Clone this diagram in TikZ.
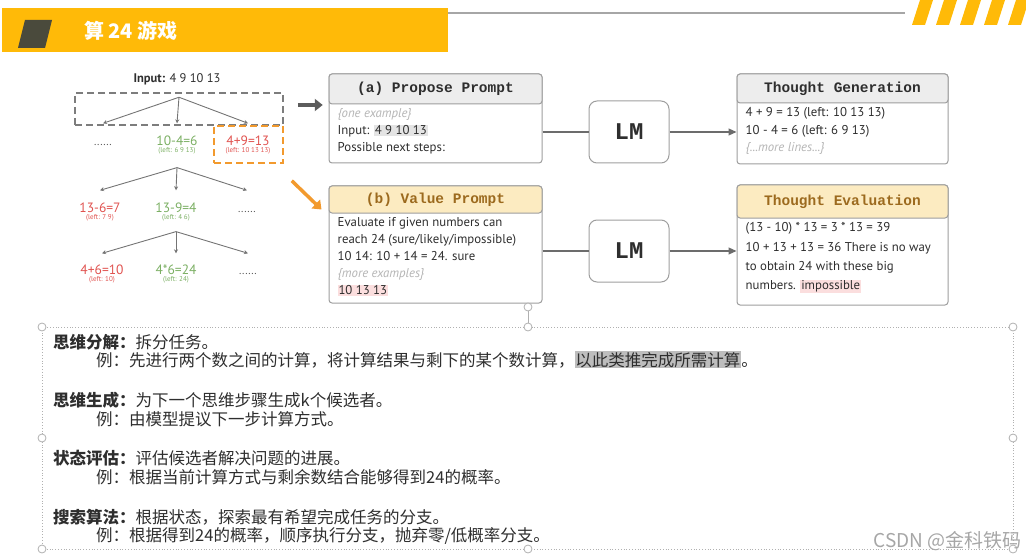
\documentclass[tikz,border=0pt]{standalone}
\usepackage{fontspec}
\setmainfont{PT Sans}
\setmonofont{Liberation Mono}
\newfontfamily\cjk{Noto Sans CJK SC}
\usepackage{tikz}
\usetikzlibrary{positioning,arrows.meta,calc}
\definecolor{ttlyel}{HTML}{FFBA08}
\definecolor{ttldark}{HTML}{4A4A3C}
\definecolor{ink}{HTML}{2E2E2E}
\definecolor{redt}{HTML}{E0524F}
\definecolor{greent}{HTML}{7BAF63}
\definecolor{arrgrey}{HTML}{5C5C5C}
\definecolor{orng}{HTML}{F29A2E}
\definecolor{frame}{HTML}{9E9E9E}
\definecolor{hdgrey}{HTML}{EDEDED}
\definecolor{hdcream}{HTML}{FCEBC1}
\definecolor{hdbrown}{HTML}{9C6A1E}
\definecolor{faint}{HTML}{B5B5B5}
\definecolor{hlgrey}{HTML}{E4E4E4}
\definecolor{hlpink}{HTML}{FBDEDE}
\definecolor{hlmid}{HTML}{BDBDBD}
\definecolor{selgrey}{HTML}{B0B0B0}
\newcommand{\hlt}[2]{\smash{\setlength{\fboxsep}{0.8pt}\colorbox{#1}{#2}}}
\tikzset{
  ttl/.style={inner sep=0, text=white, font=\cjk\bfseries\fontsize{20}{20}\selectfont},
  inp/.style={inner sep=0, text=ink, font=\fontsize{12.5}{12.5}\selectfont},
  dbox/.style={draw=arrgrey!80, dash pattern=on 7pt off 4pt, line width=1.5pt, inner sep=0},
  obox/.style={dbox, draw=orng},
  eq/.style={inner sep=0, text height=9pt, text depth=0pt, font=\fontsize{13.5}{13.5}\selectfont},
  eqr/.style={eq, text=redt},
  eqg/.style={eq, text=greent},
  lft/.style={inner sep=0, font=\fontsize{7}{7}\selectfont},
  dots/.style={eq, text=arrgrey, font=\fontsize{11}{11}\selectfont},
  tarr/.style={-{Stealth[length=4pt,width=4pt]}, line width=0.9pt, color=arrgrey!85},
  garr/.style={-{Triangle[length=8pt,width=12pt]}, line width=3.5pt, color=arrgrey},
  oarr/.style={-{Triangle[length=8pt,width=12pt]}, line width=3.5pt, color=orng},
  box/.style={draw=frame, line width=1pt, rounded corners=3pt, inner sep=0, fill=white},
  hd/.style={box, text=ink, font=\ttfamily\bfseries\fontsize{14.5}{14.5}\selectfont},
  body/.style={inner sep=0, align=left, anchor=north west, text=ink, font=\fontsize{12.8}{17}\selectfont},
  lm/.style={draw=frame, line width=1pt, rounded corners=8pt, minimum width=80pt, minimum height=62pt,
             text=ink, font=\ttfamily\bfseries\fontsize{24}{24}\selectfont},
  cl/.style={line width=1.2pt, color=arrgrey!90},
  ca/.style={cl, -{Triangle[length=8pt,width=7pt]}},
  sel/.style={draw=selgrey, dotted, line width=0.8pt},
  hnd/.style={circle, draw=selgrey, fill=white, line width=0.8pt, minimum size=8pt, inner sep=0},
  cn/.style={anchor=west, inner sep=0, text=ink, font=\cjk\fontsize{16.5}{16.5}\selectfont},
  wm/.style={anchor=east, inner sep=0, text=black!35, font=\cjk\fontsize{19}{19}\selectfont},
}

\begin{document}
\begin{tikzpicture}[x=1pt, y=-1pt]
\useasboundingbox (0,0) rectangle (1026,559);

% title bar
\draw[black!35, line width=1.2pt] (448,13) -- (905,13);
\fill[ttlyel] (2,8) rectangle (448,52);
\fill[ttldark] (25,20) -- (52,20) -- (45,48) -- (18,48) -- cycle;
\node[ttl, anchor=west] (ttl) at (84,31) {算 24 游戏};
\foreach \i in {0,...,4}
  \fill[ttlyel] ({912+24*\i},25) -- ++(13,0) -- ++(8,-25) -- ++(-13,0) -- cycle;

% tree
\node[inp] (inp) at (177,79) {\textbf{Input:} 4 9 10 13};
\node[dbox, minimum width=208pt, minimum height=32pt] (db) at (179,109) {};
\node[obox, minimum width=69pt, minimum height=37pt] (ob) at (248.5,144.5) {};
\coordinate (r0) at ([yshift=-5pt]db.north);
\node[dots] (d1) at (103,141) {......};
\node[eqg] (g1) at (177,141) {10-4=6};
\node[lft, text=greent, below=2pt of g1] (g1l) {(left: 6 9 13)};
\node[eqr] (h1) at (248,141) {4+9=13};
\node[lft, text=redt, below=2pt of h1] (h1l) {(left: 10 13 13)};
\foreach \n in {d1,g1,h1} \draw[tarr] (r0) -- ([yshift=13pt]\n.north);

\coordinate[below=13pt of g1l] (r1);
\node[eqr] (h2) at (100,208) {13-6=7};
\node[lft, text=redt, below=2pt of h2] (h2l) {(left: 7 9)};
\node[eqg] (g2) at (176,208) {13-9=4};
\node[lft, text=greent, below=2pt of g2] (g2l) {(left: 4 6)};
\node[dots] (d2) at (247,208) {......};
\foreach \n in {h2,g2,d2} \draw[tarr] (r1) -- ([yshift=13pt]\n.north);

\coordinate[below=10pt of g2l] (r2);
\node[eqr] (h3) at (102,270) {4+6=10};
\node[lft, text=redt, below=2pt of h3] (h3l) {(left: 10)};
\node[eqg] (g3) at (176,270) {4*6=24};
\node[lft, text=greent, below=2pt of g3] (g3l) {(left: 24)};
\node[dots] (d3) at (248,270) {......};
\foreach \n in {h3,g3,d3} \draw[tarr] (r2) -- ([yshift=12pt]\n.north);

% prompts
\node[box, minimum width=213pt, minimum height=89pt] (pp) at (435.5,118.5) {};
\node[hd, fill=hdgrey, minimum width=213pt, minimum height=30pt, anchor=north] (pph) at (pp.north) {(a) Propose Prompt};
\node[body] (ppb) at ([shift={(9pt,-4pt)}]pph.south west)
  {{\color{faint}\itshape\{one example\}}\\ Input: \hlt{hlgrey}{4 9 10 13}\\ Possible next steps:};

\node[box, minimum width=213pt, minimum height=117pt] (vp) at (435.5,244.5) {};
\node[hd, fill=hdcream, text=hdbrown, minimum width=213pt, minimum height=27pt, anchor=north] (vph) at (vp.north) {(b) Value Prompt};
\node[body] (vpb) at ([shift={(9pt,-4pt)}]vph.south west)
  {Evaluate if given numbers can\\ reach 24 (sure/likely/impossible)\\ 10 14: 10 + 14 = 24. sure\\
   {\color{faint}\itshape\{more examples\}}\\ \hlt{hlpink}{10 13 13}};

\draw[garr] ([shift={(14pt,4pt)}]db.east) -- ++(25pt,0pt);
\draw[oarr] ([shift={(8pt,-17pt)}]ob.south east) -- ([shift={(-7pt,-24pt)}]vp.north west);

% LM
\node[lm] (lm1) at (629,132) {LM};
\node[lm] (lm2) at (629,251) {LM};

% thoughts
\node[box, minimum width=211pt, minimum height=90pt] (tg) at (842.5,119) {};
\node[hd, fill=hdgrey, minimum width=211pt, minimum height=29pt, anchor=north] (tgh) at (tg.north) {Thought Generation};
\node[body, font=\fontsize{12.8}{17.5}\selectfont] (tgb) at ([shift={(9pt,-4pt)}]tgh.south west)
  {4 + 9 = 13 (left: 10 13 13)\\ 10 - 4 = 6 (left: 6 9 13)\\ {\color{faint}\itshape\{...more lines...\}}};

\node[box, minimum width=211pt, minimum height=120pt] (te) at (842.5,245) {};
\node[hd, fill=hdcream, text=hdbrown, minimum width=211pt, minimum height=33pt, anchor=north] (teh) at (te.north) {Thought Evaluation};
\node[body, font=\fontsize{12.8}{19.3}\selectfont] (teb) at ([shift={(9pt,-4pt)}]teh.south west)
  {(13 - 10) * 13 = 3 * 13 = 39\\ 10 + 13 + 13 = 36 There is no way\\ to obtain 24 with these big\\ numbers. \hlt{hlpink}{impossible}};

\draw[cl] (pp.east |- lm1.west) -- (lm1.west);
\draw[ca] (lm1.east) -- (tg.west |- lm1.east);
\draw[cl] (vp.east |- lm2.west) -- (lm2.west);
\draw[ca] (lm2.east) -- (te.west |- lm2.east);

% selection frame
\draw[sel] (42,327) rectangle (1013,549);
\foreach \x/\y [count=\i] in {42/327,528/327,1013/327,42/438,1013/438,42/549,528/549,1013/549}
  \node[hnd] (h\i) at (\x,\y) {};
\node[hnd] (rot) at (528,307) {};
\draw[draw=selgrey, line width=0.8pt] (rot) -- (h2);

% notes
\node[cn] (k1) at (53,342) {\textbf{思维分解：}拆分任务。};
\node[cn] (e1) at (96,360) {例：先进行两个数之间的计算，将计算结果与剩下的某个数计算，\hlt{hlmid}{以此类推完成所需计算}。};
\node[cn] (k2) at (53,400) {\textbf{思维生成：}为下一个思维步骤生成k个候选者。};
\node[cn] (e2) at (96,419) {例：由模型提议下一步计算方式。};
\node[cn] (k3) at (53,458) {\textbf{状态评估：}评估候选者解决问题的进展。};
\node[cn] (e3) at (96,477) {例：根据当前计算方式与剩余数结合能够得到24的概率。};
\node[cn] (k4) at (53,517) {\textbf{搜索算法：}根据状态，探索最有希望完成任务的分支。};
\node[cn] (e4) at (96,536) {例：根据得到24的概率，顺序执行分支，抛弃零/低概率分支。};

\node[wm] (wm) at (1022,541) {CSDN @金科铁码};
\end{tikzpicture}
\end{document}
